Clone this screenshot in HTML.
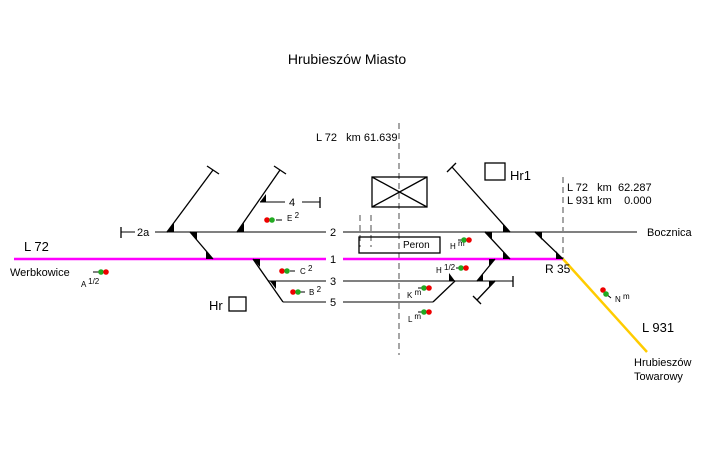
<!DOCTYPE html>
<html><head><meta charset="utf-8"><style>
html,body{margin:0;padding:0;background:#fff;}
svg{display:block;font-family:"Liberation Sans",sans-serif;}
</style></head><body>
<svg width="711" height="461" viewBox="0 0 711 461" xmlns="http://www.w3.org/2000/svg">
<rect width="711" height="461" fill="#fff"/>
<text x="347" y="64" font-size="14" text-anchor="middle" fill="#000">Hrubieszów Miasto</text>
<text x="316" y="141" font-size="11" fill="#000">L 72&#160;&#160;&#160;km 61.639</text>
<g stroke="#777" stroke-width="1.3" stroke-dasharray="6,4" fill="none">
<line x1="399" y1="123" x2="399" y2="355"/>
<line x1="563" y1="177" x2="563" y2="259"/>
<line x1="360" y1="215" x2="360" y2="247"/>
<line x1="371" y1="215" x2="371" y2="247"/>
</g>
<g stroke="#808080" stroke-width="2" fill="none">
<line x1="155" y1="232" x2="326" y2="232"/>
<line x1="343" y1="232" x2="637" y2="232"/>
<line x1="268" y1="281" x2="326" y2="281"/>
<line x1="343" y1="281" x2="513" y2="281"/>
<line x1="283" y1="302" x2="326" y2="302"/>
<line x1="343" y1="302" x2="433" y2="302"/>
<line x1="260" y1="202" x2="285" y2="202"/>
<line x1="302" y1="202" x2="320" y2="202"/>
<line x1="121" y1="232" x2="135" y2="232"/>
</g>
<line x1="14" y1="259" x2="326" y2="259" stroke="#ff00ff" stroke-width="2.5"/>
<line x1="343" y1="259" x2="563" y2="259" stroke="#ff00ff" stroke-width="2.5"/>
<line x1="563" y1="259" x2="647" y2="352" stroke="#ffcc00" stroke-width="2.5"/>
<g stroke="#000" stroke-width="1.3" fill="none">
<line x1="167" y1="232" x2="213" y2="170"/><line x1="207" y1="166" x2="219" y2="174"/>
<line x1="237" y1="232" x2="280" y2="170"/><line x1="274" y1="166" x2="286" y2="174"/>
<line x1="190" y1="232" x2="213" y2="259"/>
<line x1="253" y1="259" x2="283" y2="302"/>
<line x1="452" y1="167" x2="510" y2="232"/><line x1="447" y1="172" x2="456" y2="163"/>
<line x1="485" y1="232" x2="510" y2="259"/>
<line x1="535" y1="232" x2="563" y2="259"/>
<line x1="433" y1="302" x2="455" y2="281"/>
<line x1="477" y1="281" x2="495" y2="259"/>
<line x1="495" y1="281" x2="477" y2="300"/><line x1="473" y1="296" x2="481" y2="304"/>
<line x1="121" y1="227" x2="121" y2="238"/>
<line x1="320" y1="197" x2="320" y2="208"/>
<line x1="513" y1="276" x2="513" y2="287"/>
<rect x="372" y="177" width="55" height="30"/>
<line x1="372" y1="177" x2="427" y2="207"/><line x1="427" y1="177" x2="372" y2="207"/>
<rect x="359" y="237" width="81" height="16"/>
<rect x="485" y="163" width="20" height="17"/>
<rect x="229" y="297" width="17" height="14"/>
</g>
<g fill="#000">
<polygon points="167,232 174,232 174,223"/>
<polygon points="237,232 244,232 244,223"/>
<polygon points="260,202 266,202 266,194"/>
<polygon points="190,232 197,232 197,240"/>
<polygon points="213,259 206,259 206,251"/>
<polygon points="253,259 260,259 260,267"/>
<polygon points="270,281 276,281 276,289"/>
<polygon points="510,232 503,232 503,224"/>
<polygon points="485,232 492,232 492,240"/>
<polygon points="510,259 503,259 503,251"/>
<polygon points="535,232 542,232 542,240"/>
<polygon points="563,259 556,259 556,251"/>
<polygon points="455,281 449,281 449,273"/>
<polygon points="477,281 483,281 483,273"/>
<polygon points="495,259 489,259 489,266"/>
<polygon points="495,281 489,281 489,288"/>
</g>
<g font-size="11" fill="#000">
<text x="137" y="236">2a</text>
<text x="330" y="236">2</text>
<text x="330" y="263">1</text>
<text x="330" y="285">3</text>
<text x="330" y="306">5</text>
<text x="289" y="206">4</text>
<text x="647" y="236">Bocznica</text>
<text x="545" y="273" font-size="12">R 35</text>
<text x="567" y="191">L 72&#160;&#160;&#160;km&#160;&#160;62.287</text>
<text x="567" y="204">L 931 km&#160;&#160;&#160;&#160;0.000</text>
<text x="10" y="276">Werbkowice</text>
<text x="403" y="248" font-size="10">Peron</text>
<text x="634" y="366">Hrubieszów</text>
<text x="634" y="380">Towarowy</text>
</g>
<text x="24" y="251" font-size="13">L 72</text>
<text x="642" y="332" font-size="13">L 931</text>
<text x="510" y="180" font-size="13">Hr1</text>
<text x="209" y="310" font-size="13">Hr</text>
<g font-size="8" fill="#000">
<text x="81" y="287">A <tspan dy="-3">1/2</tspan></text>
<text x="287" y="221">E <tspan dy="-3">2</tspan></text>
<text x="300" y="274">C <tspan dy="-3">2</tspan></text>
<text x="309" y="295">B <tspan dy="-3">2</tspan></text>
<text x="450" y="249">H <tspan dy="-3">m</tspan></text>
<text x="436" y="273">H <tspan dy="-3">1/2</tspan></text>
<text x="407" y="298">K <tspan dy="-3">m</tspan></text>
<text x="408" y="322">L <tspan dy="-3">m</tspan></text>
<text x="615" y="302">N <tspan dy="-3">m</tspan></text>
</g>
<g stroke="#000" stroke-width="1">
<line x1="93" y1="272" x2="100" y2="272"/>
<line x1="276" y1="220" x2="282" y2="220"/>
<line x1="290" y1="271" x2="295" y2="271"/>
<line x1="299" y1="292" x2="305" y2="292"/>
<line x1="458" y1="240" x2="463" y2="240"/>
<line x1="456" y1="268" x2="460" y2="268"/>
<line x1="418" y1="288" x2="423" y2="288"/>
<line x1="418" y1="312" x2="423" y2="312"/>
<line x1="606" y1="294" x2="611" y2="298"/>
</g>
<g>
<circle cx="101" cy="272" r="2.8" fill="#2a2"/><circle cx="106" cy="272" r="2.8" fill="#e00"/>
<circle cx="267" cy="220" r="2.8" fill="#e00"/><circle cx="272" cy="220" r="2.8" fill="#2a2"/>
<circle cx="282" cy="271" r="2.8" fill="#e00"/><circle cx="287" cy="271" r="2.8" fill="#2a2"/>
<circle cx="293" cy="292" r="2.8" fill="#e00"/><circle cx="298" cy="292" r="2.8" fill="#2a2"/>
<circle cx="464" cy="240" r="2.8" fill="#2a2"/><circle cx="469" cy="240" r="2.8" fill="#e00"/>
<circle cx="461" cy="268" r="2.8" fill="#2a2"/><circle cx="466" cy="268" r="2.8" fill="#e00"/>
<circle cx="424" cy="288" r="2.8" fill="#2a2"/><circle cx="429" cy="288" r="2.8" fill="#e00"/>
<circle cx="424" cy="312" r="2.8" fill="#2a2"/><circle cx="429" cy="312" r="2.8" fill="#e00"/>
<circle cx="603" cy="290" r="2.8" fill="#e00"/><circle cx="606" cy="294" r="2.8" fill="#2a2"/>
</g>
</svg>
</body></html>
